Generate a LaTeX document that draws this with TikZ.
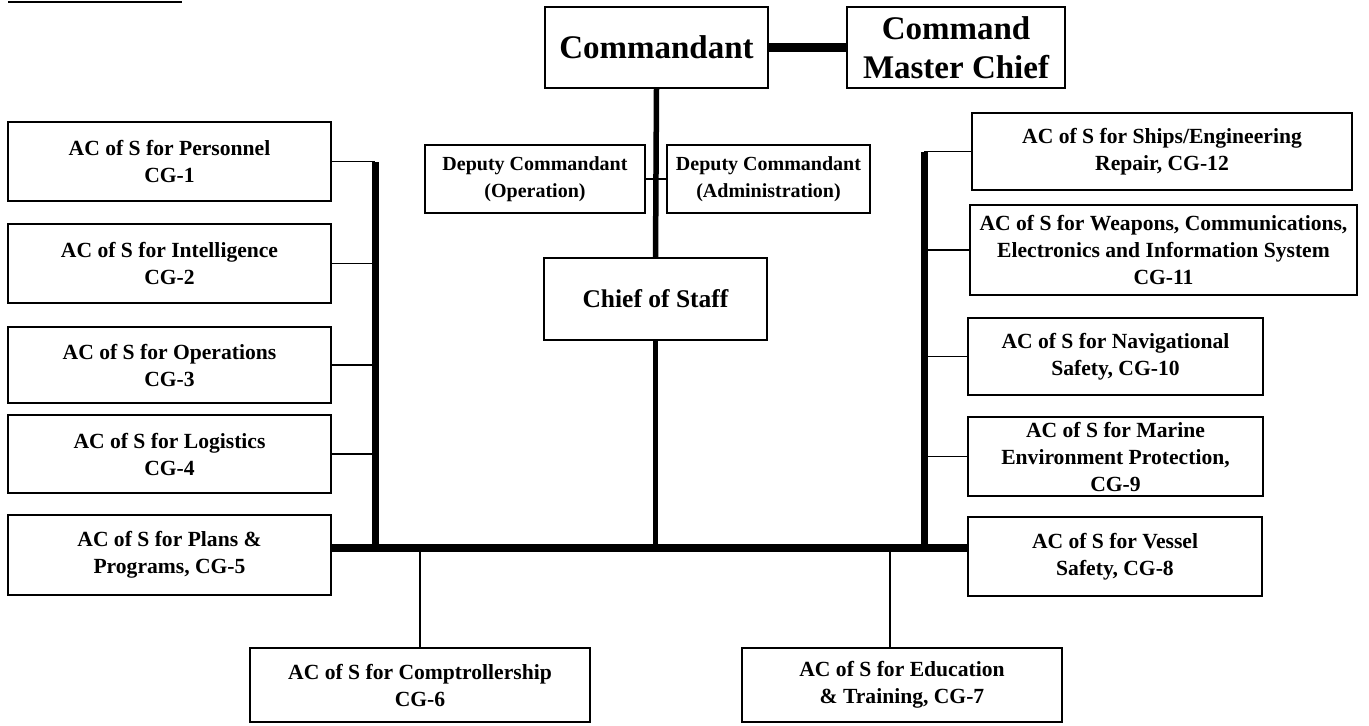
\documentclass[tikz,border=0pt]{standalone}
\usepackage{fontspec}
\setmainfont{Liberation Serif}
\begin{document}
\begin{tikzpicture}[x=1pt,y=-1pt,
  orgbox/.style={draw, line width=1.8pt, rectangle, align=center, inner sep=0pt,
    font=\bfseries\fontsize{21.6}{27}\selectfont},
  depbox/.style={orgbox, font=\bfseries\fontsize{20}{27}\selectfont},
  bigbox/.style={orgbox, font=\bfseries\fontsize{33}{39}\selectfont},
  midbox/.style={orgbox, font=\bfseries\fontsize{25.5}{30}\selectfont},
  thinlink/.style={line width=1.4pt},
  spine/.style={line width=5.5pt},
  trunk/.style={line width=7pt},
  busline/.style={line width=8pt},
  peerlink/.style={line width=9pt}]
\useasboundingbox (0,0) rectangle (1369,726);

% header rule left over from the page above
\draw[line width=2.5pt] (8,2) -- (182,2);

% command group
\node[bigbox, minimum width=223pt, minimum height=81pt] (cmdt) at (656.5,47.5) {Commandant};
\node[bigbox, minimum width=218pt, minimum height=81pt] (cmc) at (956,47.5) {Command\\Master Chief};
\node[depbox, minimum width=220pt, minimum height=68pt] (depop) at (535,179) {Deputy Commandant\\(Operation)};
\node[depbox, minimum width=203pt, minimum height=68pt] (depad) at (768.5,179) {Deputy Commandant\\(Administration)};
\node[midbox, minimum width=223pt, minimum height=82pt] (cos) at (655.5,299) {Chief of Staff};

% left column
\node[orgbox, minimum width=323pt, minimum height=79pt] (p1) at (169.5,161.5) {AC of S for Personnel\\CG-1};
\node[orgbox, minimum width=323pt, minimum height=79pt] (p2) at (169.5,263.5) {AC of S for Intelligence\\CG-2};
\node[orgbox, minimum width=323pt, minimum height=76pt] (p3) at (169.5,365) {AC of S for Operations\\CG-3};
\node[orgbox, minimum width=323pt, minimum height=78pt] (p4) at (169.5,454) {AC of S for Logistics\\CG-4};
\node[orgbox, minimum width=323pt, minimum height=80pt] (p5) at (169.5,555) {AC of S for Plans \&\\Programs, CG-5};

% right column
\node[orgbox, minimum width=380pt, minimum height=77pt] (s12) at (1162,151.5) {AC of S for Ships/Engineering\\Repair, CG-12};
\node[orgbox, minimum width=387pt, minimum height=90pt] (s11) at (1163.5,250) {AC of S for Weapons, Communications,\\Electronics and Information System\\CG-11};
\node[orgbox, minimum width=295pt, minimum height=77pt] (s10) at (1115.5,356.5) {AC of S for Navigational\\Safety, CG-10};
\node[orgbox, minimum width=295pt, minimum height=79pt] (s9) at (1115.5,456.5) {AC of S for Marine\\Environment Protection,\\CG-9};
\node[orgbox, minimum width=294pt, minimum height=79pt] (s8) at (1115,556.5) {AC of S for Vessel\\Safety, CG-8};

% bottom row
\node[orgbox, minimum width=340pt, minimum height=74pt] (b6) at (420,685) {AC of S for Comptrollership\\CG-6};
\node[orgbox, minimum width=320pt, minimum height=74pt] (b7) at (902,685) {AC of S for Education\\\& Training, CG-7};

% junction points on the bus
\coordinate (busL) at (331,548);
\coordinate (ltrunk) at (375,548);
\coordinate (rtrunk) at (924,548);
\coordinate (drop7) at (890,548);

% chain of command
\draw[peerlink] (cmdt.east) -- (cmc.west);
\draw[spine] (cmdt.south) -- (cos.north);
\draw[spine] (cos.south) -- (cos.south |- busL);
\draw[thinlink] (depop.east) -- (depad.west);

% main bus
\draw[busline] (busL) -- (busL -| s8.west);

% left trunk and its branches
\draw[trunk] (ltrunk) -- (ltrunk |- p1.east);
\foreach \b in {p1,p2,p3,p4}
  \draw[thinlink] (\b.east) -- (\b.east -| ltrunk);

% right trunk and its branches
\draw[trunk] (rtrunk) -- (rtrunk |- s12.west);
\foreach \b in {s12,s11,s10,s9}
  \draw[thinlink] (\b.west) -- (\b.west -| rtrunk);

% drops to the bottom row
\draw[thinlink] (b6.north |- busL) -- (b6.north);
\draw[thinlink] (drop7) -- (drop7 |- b7.north);
\end{tikzpicture}
\end{document}
